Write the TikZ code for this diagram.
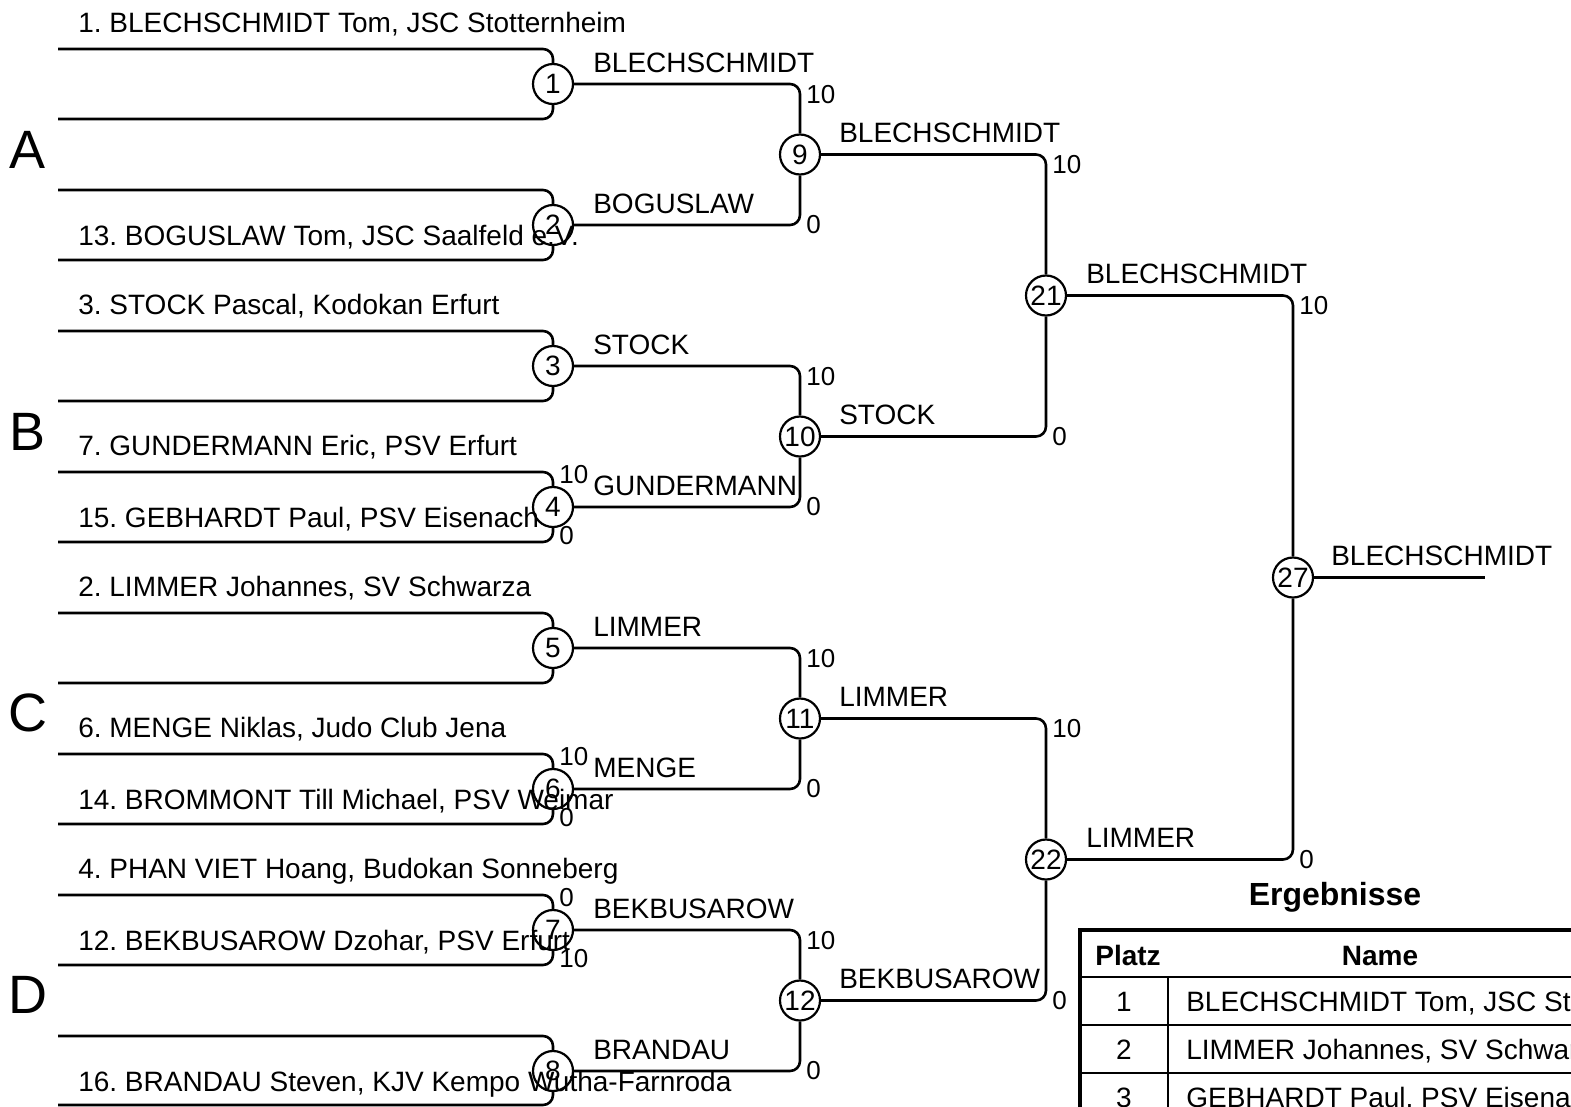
\documentclass[tikz,border=0pt]{standalone}
\usepackage{fontspec}
\setmainfont{Liberation Sans}
\usetikzlibrary{positioning}
\frenchspacing
\begin{document}
\begin{tikzpicture}[x=1pt,y=-1pt,line width=2.6pt,
        kampf/.style={circle,draw,line width=2.2pt,minimum size=40pt,inner sep=0pt,font=\fontsize{28}{28}\selectfont},
        teilnehmer/.style={anchor=base west,inner sep=0pt,font=\fontsize{28}{34}\selectfont},
        sieger/.style={anchor=base west,inner sep=0pt,font=\fontsize{28}{34}\selectfont},
        punkte/.style={inner sep=0pt,font=\fontsize{26}{30}\selectfont},
        gruppe/.style={inner sep=0pt,font=\fontsize{54}{60}\selectfont},
        zelle/.style={anchor=base,inner sep=0pt,font=\fontsize{28}{34}\selectfont},
        rbracket/.style={rounded corners=10pt}]
        \clip (0,0) rectangle (1571,1106);
        \node[kampf] (k1) at (553,84) {1};
        \node[kampf] (k2) at (553,225) {2};
        \node[kampf] (k3) at (553,366) {3};
        \node[kampf] (k4) at (553,507) {4};
        \node[kampf] (k5) at (553,648) {5};
        \node[kampf] (k6) at (553,789) {6};
        \node[kampf] (k7) at (553,930) {7};
        \node[kampf] (k8) at (553,1071) {8};
        \node[kampf] (k9) at (800,154.5) {9};
        \node[kampf] (k10) at (800,436.5) {10};
        \node[kampf] (k11) at (800,718.5) {11};
        \node[kampf] (k12) at (800,1000.5) {12};
        \node[kampf] (k21) at (1046,295.5) {21};
        \node[kampf] (k22) at (1046,859.5) {22};
        \node[kampf] (k27) at (1293,577.5) {27};
        \coordinate (o1) at (58,49);   \coordinate (u1) at (58,119);
        \coordinate (o2) at (58,190);  \coordinate (u2) at (58,260);
        \coordinate (o3) at (58,331);  \coordinate (u3) at (58,401);
        \coordinate (o4) at (58,472);  \coordinate (u4) at (58,542);
        \coordinate (o5) at (58,613);  \coordinate (u5) at (58,683);
        \coordinate (o6) at (58,754);  \coordinate (u6) at (58,824);
        \coordinate (o7) at (58,895);  \coordinate (u7) at (58,965);
        \coordinate (o8) at (58,1036); \coordinate (u8) at (58,1105);
        \coordinate (ende) at (1485,577.5);
        \draw[rbracket] (o1) -| (k1.north);  \draw[rbracket] (u1) -| (k1.south);
        \draw[rbracket] (o2) -| (k2.north);  \draw[rbracket] (u2) -| (k2.south);
        \draw[rbracket] (o3) -| (k3.north);  \draw[rbracket] (u3) -| (k3.south);
        \draw[rbracket] (o4) -| (k4.north);  \draw[rbracket] (u4) -| (k4.south);
        \draw[rbracket] (o5) -| (k5.north);  \draw[rbracket] (u5) -| (k5.south);
        \draw[rbracket] (o6) -| (k6.north);  \draw[rbracket] (u6) -| (k6.south);
        \draw[rbracket] (o7) -| (k7.north);  \draw[rbracket] (u7) -| (k7.south);
        \draw[rbracket] (o8) -| (k8.north);  \draw[rbracket] (u8) -| (k8.south);
        \draw[rbracket] (k1.east) -| (k9.north);   \draw[rbracket] (k2.east) -| (k9.south);
        \draw[rbracket] (k3.east) -| (k10.north);  \draw[rbracket] (k4.east) -| (k10.south);
        \draw[rbracket] (k5.east) -| (k11.north);  \draw[rbracket] (k6.east) -| (k11.south);
        \draw[rbracket] (k7.east) -| (k12.north);  \draw[rbracket] (k8.east) -| (k12.south);
        \draw[rbracket] (k9.east) -| (k21.north);  \draw[rbracket] (k10.east) -| (k21.south);
        \draw[rbracket] (k11.east) -| (k22.north); \draw[rbracket] (k12.east) -| (k22.south);
        \draw[rbracket] (k21.east) -| (k27.north); \draw[rbracket] (k22.east) -| (k27.south);
        \draw (k27.east) -- (ende);
        \node[gruppe] (gA) at (28,150) {A};
        \node[gruppe] (gB) at (28,432) {B};
        \node[gruppe] (gC) at (28,713) {C};
        \node[gruppe] (gD) at (28,995) {D};
        \node[teilnehmer] (n1) at (77,32) {1. BLECHSCHMIDT Tom, JSC Stotternheim};
        \node[teilnehmer] (n13) at (77,245) {13. BOGUSLAW Tom, JSC Saalfeld e.V.};
        \node[teilnehmer] (n3) at (77,314) {3. STOCK Pascal, Kodokan Erfurt};
        \node[teilnehmer] (n7) at (77,455) {7. GUNDERMANN Eric, PSV Erfurt};
        \node[teilnehmer] (n15) at (77,527) {15. GEBHARDT Paul, PSV Eisenach};
        \node[teilnehmer] (n2) at (77,596) {2. LIMMER Johannes, SV Schwarza};
        \node[teilnehmer] (n6) at (77,737) {6. MENGE Niklas, Judo Club Jena};
        \node[teilnehmer] (n14) at (77,809) {14. BROMMONT Till Michael, PSV Weimar};
        \node[teilnehmer] (n4) at (77,878) {4. PHAN VIET Hoang, Budokan Sonneberg};
        \node[teilnehmer] (n12) at (77,950) {12. BEKBUSAROW Dzohar, PSV Erfurt};
        \node[teilnehmer] (n16) at (77,1091) {16. BRANDAU Steven, KJV Kempo Wutha-Farnroda};
        \node[sieger] (s1) at (592,72) {BLECHSCHMIDT};
        \node[sieger] (s2) at (592,213) {BOGUSLAW};
        \node[sieger] (s3) at (592,354) {STOCK};
        \node[sieger] (s4) at (592,495) {GUNDERMANN};
        \node[sieger] (s5) at (592,636) {LIMMER};
        \node[sieger] (s6) at (592,777) {MENGE};
        \node[sieger] (s7) at (592,918) {BEKBUSAROW};
        \node[sieger] (s8) at (592,1059) {BRANDAU};
        \node[sieger] (s9) at (838,142.5) {BLECHSCHMIDT};
        \node[sieger] (s10) at (838,424.5) {STOCK};
        \node[sieger] (s11) at (838,706.5) {LIMMER};
        \node[sieger] (s12) at (838,988.5) {BEKBUSAROW};
        \node[sieger] (s21) at (1085,283.5) {BLECHSCHMIDT};
        \node[sieger] (s22) at (1085,847.5) {LIMMER};
        \node[sieger] (s27) at (1330,565.5) {BLECHSCHMIDT};
        \node[punkte,anchor=west] (p4o) at (558,475) {10};
        \node[punkte,anchor=west] (p4u) at (558,536) {0};
        \node[punkte,anchor=west] (p6o) at (558,757) {10};
        \node[punkte,anchor=west] (p6u) at (558,818) {0};
        \node[punkte,anchor=west] (p7o) at (558,898) {0};
        \node[punkte,anchor=west] (p7u) at (558,959) {10};
        \node[punkte,anchor=north west] (p1) at (805,84) {10};
        \node[punkte,anchor=west] (p2) at (805,225) {0};
        \node[punkte,anchor=north west] (p3) at (805,366) {10};
        \node[punkte,anchor=west] (p4) at (805,507) {0};
        \node[punkte,anchor=north west] (p5) at (805,648) {10};
        \node[punkte,anchor=west] (p6) at (805,789) {0};
        \node[punkte,anchor=north west] (p7) at (805,930) {10};
        \node[punkte,anchor=west] (p8) at (805,1071) {0};
        \node[punkte,anchor=north west] (p9) at (1051,154.5) {10};
        \node[punkte,anchor=west] (p10) at (1051,436.5) {0};
        \node[punkte,anchor=north west] (p11) at (1051,718.5) {10};
        \node[punkte,anchor=west] (p12) at (1051,1000.5) {0};
        \node[punkte,anchor=north west] (p21) at (1298,295.5) {10};
        \node[punkte,anchor=west] (p22) at (1298,859.5) {0};
        \node[anchor=base,inner sep=0pt,font=\bfseries\fontsize{32}{38}\selectfont] (titel) at (1335,905) {Ergebnisse};
        \draw[line width=4.5pt] (1080,930) rectangle (1700,1140);
        \draw[line width=2.2pt] (1080,977) -- (1700,977);
        \draw[line width=2.2pt] (1080,1025) -- (1700,1025);
        \draw[line width=2.2pt] (1080,1073) -- (1700,1073);
        \draw[line width=2.2pt] (1168,977) -- (1168,1140);
        \node[zelle,font=\bfseries\fontsize{28}{34}\selectfont] (hplatz) at (1128,965) {Platz};
        \node[zelle,font=\bfseries\fontsize{28}{34}\selectfont] (hname) at (1380,965) {Name};
        \node[zelle] (r1) at (1124,1011) {1};
        \node[zelle,anchor=base west] (r1n) at (1185,1011) {BLECHSCHMIDT Tom, JSC Stotternheim};
        \node[zelle] (r2) at (1124,1059) {2};
        \node[zelle,anchor=base west] (r2n) at (1185,1059) {LIMMER Johannes, SV Schwarza};
        \node[zelle] (r3) at (1124,1107) {3};
        \node[zelle,anchor=base west] (r3n) at (1185,1107) {GEBHARDT Paul, PSV Eisenach};
    \end{tikzpicture}
\end{document}
